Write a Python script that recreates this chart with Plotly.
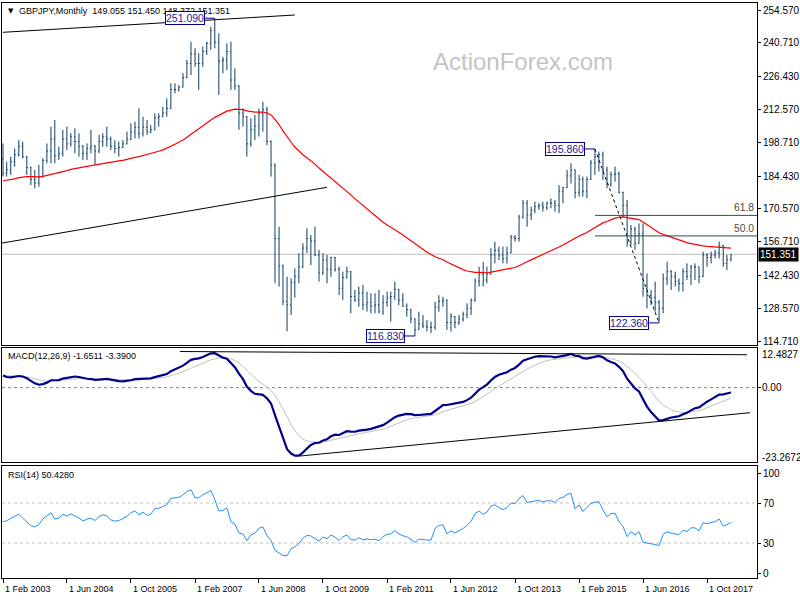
import pandas as pd
import plotly.graph_objects as go

# ---------------- data ----------------
TITLE = "GBPJPY,Monthly  149.055 151.450 148.372 151.351"
MACD_TITLE = "MACD(12,26,9) -1.6511 -3.3900"
RSI_TITLE = "RSI(14) 50.4280"
WATERMARK = "ActionForex.com"
CURRENT_PRICE = 151.351

first_month = "2003-02-01"
first_open = 191.5

highs = [198.2, 190.5, 192.6, 196.1, 199.6, 199.0, 193.0, 188.4, 187.0, 189.1,
         191.9, 198.2, 205.3, 208.1, 196.8, 203.9, 205.3, 202.5, 204.6, 202.5,
         197.5, 198.2, 203.9, 197.5, 201.8, 202.5, 205.3, 201.1, 199.6, 199.0,
         199.6, 203.2, 206.7, 207.4, 213.0, 209.5, 208.1, 206.0, 210.9, 210.9,
         213.7, 217.2, 223.6, 223.6, 222.9, 227.9, 233.5, 241.2, 238.4, 236.3,
         239.1, 241.2, 247.5, 251.09, 244.7, 234.8, 240.5, 241.2, 229.9, 222.8,
         213.0, 209.8, 208.8, 210.2, 213.0, 215.8, 213.7, 199.5, 189.8, 163.0,
         147.0, 141.9, 141.2, 145.4, 151.8, 156.0, 162.3, 159.5, 163.0, 153.2,
         151.8, 151.1, 150.3, 150.3, 146.1, 144.0, 146.1, 144.3, 136.3, 137.7,
         138.4, 135.6, 134.9, 134.9, 136.3, 134.1, 135.6, 135.6, 139.8, 136.8,
         134.9, 130.6, 128.3, 124.3, 127.1, 125.7, 123.6, 122.9, 131.3, 134.1,
         133.4, 132.3, 126.4, 125.3, 125.7, 127.1, 130.6, 132.7, 141.2, 146.1,
         148.2, 146.1, 153.9, 156.7, 154.6, 154.6, 154.6, 159.5, 159.5, 168.0,
         174.3, 174.3, 171.5, 173.6, 172.9, 173.6, 173.6, 175.0, 174.3, 180.6,
         179.9, 187.0, 189.8, 187.2, 184.9, 184.2, 184.2, 191.2, 195.86, 194.7,
         194.7, 188.4, 186.3, 188.4, 186.3, 177.8, 174.3, 163.7, 163.0, 164.4,
         164.4, 143.3, 136.3, 139.8, 132.0, 143.3, 148.2, 144.7, 144.0, 141.2,
         145.4, 147.5, 146.8, 147.5, 146.1, 152.5, 151.8, 152.5, 153.2, 156.7,
         155.3, 151.1, 151.45]

lows = [184.2, 184.2, 184.9, 188.4, 192.6, 191.9, 184.9, 180.6, 179.2, 179.9,
        184.0, 189.8, 189.8, 189.8, 191.2, 192.6, 195.4, 196.8, 194.0, 192.6,
        191.2, 191.2, 194.0, 189.1, 194.0, 196.8, 196.8, 195.4, 194.0, 192.6,
        196.2, 197.8, 199.6, 200.3, 200.3, 201.1, 201.8, 202.5, 203.8, 205.3,
        209.3, 209.5, 212.8, 219.4, 220.1, 221.8, 225.7, 227.1, 230.6, 220.8,
        230.6, 235.6, 237.7, 238.4, 218.7, 227.8, 229.2, 220.8, 220.8, 203.9,
        205.3, 192.6, 196.8, 199.6, 201.1, 203.2, 197.5, 184.2, 139.1, 137.7,
        129.9, 118.8, 125.7, 133.0, 139.1, 145.5, 151.8, 146.8, 150.5, 139.8,
        142.6, 139.1, 141.9, 144.0, 134.1, 132.0, 141.2, 126.4, 131.3, 129.2,
        127.8, 127.1, 126.4, 126.4, 126.4, 125.7, 129.2, 122.9, 132.0, 129.9,
        129.2, 125.0, 122.2, 116.83, 119.4, 120.1, 118.7, 118.0, 119.4, 127.1,
        129.2, 119.4, 118.7, 120.1, 121.5, 122.9, 124.3, 125.7, 131.3, 137.7,
        137.7, 139.1, 142.8, 147.5, 148.9, 147.5, 147.5, 151.8, 156.7, 156.7,
        166.5, 163.0, 165.8, 168.7, 170.1, 169.4, 170.1, 170.8, 169.4, 168.7,
        172.9, 179.3, 181.3, 175.0, 175.7, 175.7, 175.0, 182.8, 184.9, 186.3,
        182.7, 179.2, 179.9, 182.0, 177.1, 167.2, 154.6, 155.3, 153.2, 155.8,
        133.4, 128.5, 129.9, 127.1, 122.36, 126.4, 138.4, 136.3, 137.7, 135.6,
        135.6, 140.5, 138.4, 140.5, 139.1, 141.8, 146.1, 147.5, 149.6, 149.6,
        146.1, 144.7, 148.372]

closes = [185.6, 187.0, 190.5, 193.5, 197.0, 192.5, 188.0, 183.0, 181.5, 184.0,
          191.0, 195.0, 200.0, 193.0, 194.0, 200.0, 198.0, 201.0, 199.0, 197.0,
          194.0, 196.0, 197.0, 195.0, 199.0, 201.0, 200.0, 197.0, 196.0, 196.5,
          198.0, 200.0, 203.0, 205.0, 202.5, 205.0, 203.0, 204.0, 209.0, 209.5,
          211.0, 213.0, 221.0, 221.0, 222.0, 226.0, 232.0, 236.0, 232.0, 232.0,
          237.0, 240.5, 246.0, 241.0, 233.0, 233.5, 237.0, 225.0, 222.5, 211.0,
          209.5, 198.0, 204.0, 205.5, 211.0, 212.5, 199.0, 189.0, 158.0, 146.5,
          131.5, 130.0, 139.5, 142.0, 146.0, 154.0, 158.0, 157.0, 151.0, 143.5,
          149.0, 145.0, 150.0, 145.0, 137.0, 141.5, 144.0, 133.5, 132.0, 135.0,
          130.0, 131.0, 129.5, 130.0, 127.0, 131.0, 133.0, 133.5, 136.5, 132.0,
          129.5, 128.0, 124.0, 119.5, 122.0, 121.0, 120.5, 120.5, 129.0, 131.5,
          132.0, 122.5, 125.0, 122.5, 124.0, 126.0, 128.5, 132.0, 140.0, 143.0,
          140.5, 143.0, 151.0, 153.0, 151.0, 149.5, 152.0, 158.5, 158.0, 167.0,
          173.0, 168.0, 170.0, 171.5, 172.0, 171.0, 173.0, 173.0, 172.0, 178.0,
          179.5, 184.5, 187.0, 177.5, 183.0, 178.0, 183.0, 190.0, 192.5, 193.5,
          187.0, 181.0, 185.0, 185.5, 177.5, 172.0, 156.5, 162.0, 156.0, 160.0,
          137.0, 134.0, 133.0, 131.0, 128.5, 141.0, 144.0, 142.0, 140.0, 139.0,
          144.0, 142.0, 146.0, 146.0, 142.0, 151.0, 150.0, 151.0, 152.0, 155.0,
          147.5, 149.055, 151.351]

assert len(highs) == len(lows) == len(closes)

# indicator states just before the first visible bar
MA_PERIOD = 55
MA_SEED = 182.3
EMA12_SEED = 190.0
EMA26_SEED = 185.5
SIGNAL_SEED = 3.8
RSI_GAIN_SEED = 3.0
RSI_LOSS_SEED = 2.4

price_ticks = [254.570, 240.710, 226.430, 212.570, 198.710, 184.430,
               170.570, 156.710, 142.430, 128.570, 114.710]
macd_ticks = [12.4827, 0.0, -23.2672]
rsi_ticks = [100, 70, 30, 0]

label_dates = ["2003-02-01", "2004-06-01", "2005-10-01", "2007-02-01",
               "2008-06-01", "2009-10-01", "2011-02-01", "2012-06-01",
               "2013-10-01", "2015-02-01", "2016-06-01", "2017-10-01"]
label_texts = ["1 Feb 2003", "1 Jun 2004", "1 Oct 2005", "1 Feb 2007",
               "1 Jun 2008", "1 Oct 2009", "1 Feb 2011", "1 Jun 2012",
               "1 Oct 2013", "1 Feb 2015", "1 Jun 2016", "1 Oct 2017"]

pivot_months = ["2007-07-01", "2015-06-01", "2011-09-01", "2016-10-01"]
pivot_values = [251.09, 195.86, 116.83, 122.36]

swing_high_month, swing_high = "2015-06-01", 195.86
swing_low_month, swing_low = "2016-10-01", 122.36
fib_ratios = [0.618, 0.5]
fib_texts = ["61.8", "50.0"]

price_trend_dates = [["2003-02-01", "2009-03-01"], ["2003-01-25", "2009-11-01"]]
price_trend_values = [[245.15, 252.46], [156.1, 179.66]]
macd_trend_dates = [["2006-10-09", "2018-08-01"], ["2009-04-09", "2018-08-24"]]
macd_trend_values = [[11.37, 10.36], [-21.54, -7.9]]

# ---------------- computations ----------------
dates = pd.date_range(first_month, periods=len(closes), freq="MS")
opens = [first_open] + closes[:-1]


def ema(values, period, seed):
    k = 2.0 / (period + 1)
    out, prev = [], seed
    for v in values:
        prev = prev + k * (v - prev)
        out.append(prev)
    return out


ma = ema(closes, MA_PERIOD, MA_SEED)
e12 = ema(closes, 12, EMA12_SEED)
e26 = ema(closes, 26, EMA26_SEED)
macd = [a - b for a, b in zip(e12, e26)]
signal = ema(macd, 9, SIGNAL_SEED)

rsi = []
ag, al, prev = RSI_GAIN_SEED, RSI_LOSS_SEED, first_open
for c in closes:
    ch = c - prev
    ag = (ag * 13 + max(ch, 0)) / 14
    al = (al * 13 + max(-ch, 0)) / 14
    rsi.append(100 * ag / (ag + al))
    prev = c

# ---------------- layout geometry ----------------
W, H = 800, 600
ML, MR, MT, MB = 2, 43, 3, 22
PH = H - MT - MB


def pf(ypix):
    return (H - MB - ypix) / PH


X_START = pd.Timestamp("2003-02-01") - pd.Timedelta(days=7.6)
X_END = pd.Timestamp("2018-10-16")
FONT = "Liberation Sans"
BAR_COLOR = "#0f3f60"
NAVY = "#00008b"

fig = go.Figure()
fig.add_trace(go.Ohlc(
    x=dates, open=opens, high=highs, low=lows, close=closes,
    increasing=dict(line=dict(color=BAR_COLOR, width=1)),
    decreasing=dict(line=dict(color=BAR_COLOR, width=1)),
    tickwidth=0.3, xaxis="x", yaxis="y", showlegend=False, hoverinfo="skip"))
fig.add_trace(go.Scatter(x=dates, y=ma, mode="lines", line=dict(color="#ff0000", width=1.2),
                         xaxis="x", yaxis="y", showlegend=False, hoverinfo="skip"))
fig.add_trace(go.Scatter(x=dates, y=signal, mode="lines", line=dict(color="#c0c0c0", width=1),
                         xaxis="x2", yaxis="y2", showlegend=False, hoverinfo="skip"))
fig.add_trace(go.Scatter(x=dates, y=macd, mode="lines", line=dict(color=NAVY, width=2.2),
                         xaxis="x2", yaxis="y2", showlegend=False, hoverinfo="skip"))
fig.add_trace(go.Scatter(x=dates, y=rsi, mode="lines", line=dict(color="#1e90ff", width=1),
                         xaxis="x3", yaxis="y3", showlegend=False, hoverinfo="skip"))

shapes = []
# current price line
shapes.append(dict(type="line", xref="x domain", x0=0, x1=1, yref="y",
                   y0=CURRENT_PRICE, y1=CURRENT_PRICE, line=dict(color="#c0c0c0", width=1),
                   layer="below"))
# trendlines
for d, v in zip(price_trend_dates, price_trend_values):
    shapes.append(dict(type="line", xref="x", yref="y", x0=d[0], x1=d[1], y0=v[0], y1=v[1],
                       line=dict(color="black", width=1)))
for d, v in zip(macd_trend_dates, macd_trend_values):
    shapes.append(dict(type="line", xref="x2", yref="y2", x0=d[0], x1=d[1], y0=v[0], y1=v[1],
                       line=dict(color="black", width=1)))
# swing dotted line
shapes.append(dict(type="line", xref="x", yref="y", x0=swing_high_month, x1=swing_low_month,
                   y0=swing_high, y1=swing_low, line=dict(color="black", width=1, dash="dot")))
# fibonacci levels
fib_levels = [swing_low + (swing_high - swing_low) * r for r in fib_ratios]
for lv in fib_levels:
    shapes.append(dict(type="line", xref="x", yref="y", x0=swing_high_month, x1=X_END,
                       y0=lv, y1=lv, line=dict(color="#2f4f4f", width=1)))
# zero and RSI levels
shapes.append(dict(type="line", xref="x2 domain", x0=0, x1=1, yref="y2", y0=0, y1=0,
                   line=dict(color="#808080", width=1, dash="3px,3px"), layer="below"))
for lv in (70, 30):
    shapes.append(dict(type="line", xref="x3 domain", x0=0, x1=1, yref="y3", y0=lv, y1=lv,
                       line=dict(color="#c0c0c0", width=1, dash="3px,3px"), layer="below"))
# pivot connectors
for d, v in zip(pivot_months, pivot_values):
    shapes.append(dict(type="line", xref="x", xsizemode="pixel", xanchor=d, x0=-10, x1=0,
                       yref="y", y0=v, y1=v, line=dict(color=NAVY, width=1)))

ann = []
small = dict(family=FONT, size=9, color="black")
ann.append(dict(text="▼", xref="paper", yref="paper", x=(6 - ML) / (W - ML - MR), y=pf(10.5),
                xanchor="left", yanchor="middle", showarrow=False,
                font=dict(family="DejaVu Sans", size=7, color="black")))
ann.append(dict(text=TITLE, xref="paper", yref="paper", x=(17 - ML) / (W - ML - MR), y=pf(11),
                xanchor="left", yanchor="middle", showarrow=False, font=small))
ann.append(dict(text=MACD_TITLE, xref="paper", yref="paper", x=(6 - ML) / (W - ML - MR),
                y=pf(355.5), xanchor="left", yanchor="middle", showarrow=False, font=small))
ann.append(dict(text=RSI_TITLE, xref="paper", yref="paper", x=(6 - ML) / (W - ML - MR),
                y=pf(475), xanchor="left", yanchor="middle", showarrow=False, font=small))
ann.append(dict(text=WATERMARK, xref="paper", yref="paper", x=(523 - ML) / (W - ML - MR),
                y=pf(61), xanchor="center", yanchor="middle", showarrow=False,
                font=dict(family=FONT, size=24, color="#c4c4c4")))
for d, v in zip(pivot_months, pivot_values):
    ann.append(dict(text=f"{v:.3f}", x=d, y=v, xref="x", yref="y", xanchor="right",
                    yanchor="middle", xshift=-10, showarrow=False, bgcolor="white",
                    bordercolor=NAVY, borderwidth=1, borderpad=0,
                    font=dict(family=FONT, size=10.5, color="#1c1c9c")))
for lv, t in zip(fib_levels, fib_texts):
    ann.append(dict(text=t, xref="x domain", yref="y", x=1, y=lv, xanchor="right",
                    yanchor="bottom", xshift=-1, yshift=0, showarrow=False,
                    font=dict(family=FONT, size=10.3, color="#4a4a4a")))
ann.append(dict(text=f"{CURRENT_PRICE:.3f}", xref="paper", yref="y", x=1, y=CURRENT_PRICE,
                xanchor="left", yanchor="middle", xshift=1, showarrow=False,
                bgcolor="black", borderpad=1, font=dict(family=FONT, size=10, color="white")))
macd_shift = [-6, 0, 4]
for v, s in zip(macd_ticks, macd_shift):
    ann.append(dict(text=f"{v:.4f}" if v != 0 else "0.00", xref="paper", yref="y2", x=1, y=v,
                    xanchor="left", yanchor="middle", xshift=3, yshift=s, showarrow=False,
                    font=dict(family=FONT, size=10, color="black")))
for d, t in zip(label_dates, label_texts):
    ann.append(dict(text=t, xref="x3", yref="paper", x=d, y=pf(588.5), xanchor="left",
                    yanchor="middle", xshift=0, showarrow=False, font=small))

common_x = dict(type="date", range=[X_START, X_END], showgrid=False, zeroline=False,
                showline=True, mirror=True, linecolor="black", linewidth=1,
                showticklabels=False, ticks="", fixedrange=True)
common_y = dict(side="right", showgrid=False, zeroline=False, showline=True, mirror=True,
                linecolor="black", linewidth=1, ticks="outside", ticklen=3, tickcolor="black",
                tickfont=dict(family=FONT, size=10, color="black"), fixedrange=True)

fig.update_layout(
    width=W, height=H, margin=dict(l=ML, r=MR, t=MT, b=MB, autoexpand=False),
    paper_bgcolor="white", plot_bgcolor="white", showlegend=False,
    font=dict(family=FONT, size=10, color="black"),
    xaxis=dict(common_x, anchor="y", domain=[0, 1], rangeslider=dict(visible=False)),
    xaxis2=dict(common_x, anchor="y2", domain=[0, 1]),
    xaxis3=dict(common_x, anchor="y3", domain=[0, 1], ticks="outside", ticklen=4,
                tickcolor="black", tickvals=label_dates),
    yaxis=dict(common_y, anchor="x", domain=[pf(345), 1], range=[113.02, 257.53],
               tickvals=price_ticks, ticktext=[f"{v:.3f}" for v in price_ticks]),
    yaxis2=dict(common_y, anchor="x2", domain=[pf(461.5), pf(348)], range=[-23.2672, 12.4827],
                tickvals=[0.0], showticklabels=False),
    yaxis3=dict(common_y, anchor="x3", domain=[0, pf(466)], range=[-5, 107],
                tickvals=rsi_ticks, ticktext=[str(v) for v in rsi_ticks]),
    shapes=shapes, annotations=ann,
)

fig.write_html(
    "out.html",
    config={"displayModeBar": False, "staticPlot": True},
    post_script="document.body.style.margin='0';document.body.style.overflow='hidden';",
)
